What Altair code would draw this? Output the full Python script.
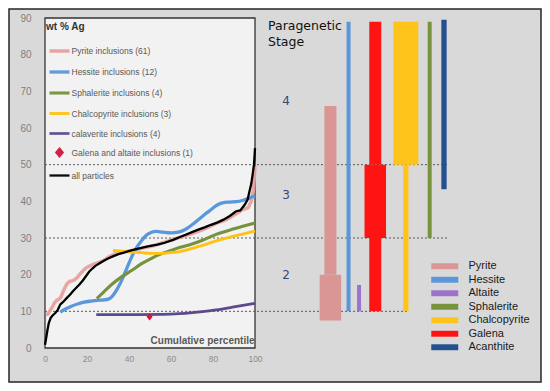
import altair as alt
import pandas as pd

# ---------------- Left panel: wt % Ag vs cumulative percentile ----------------
SERIES = [
    "Pyrite inclusions (61)",
    "Hessite inclusions (12)",
    "Sphalerite inclusions (4)",
    "Chalcopyrite inclusions (3)",
    "calaverite inclusions (4)",
    "Galena and altaite inclusions (1)",
    "all particles",
]
SERIES_COLORS = ["#e8a09e", "#5b97dc", "#76923c", "#ffc20e", "#5d4a8c", "#d4163c", "#000000"]

PYR_X = [0.5, 1.5, 2.5, 3.5, 4.5, 5.5, 6.5, 7.5, 8.5, 9.5, 10.5, 11.8, 13, 14.1, 15.5, 16.4, 18, 19.4,
         21, 23.2, 25, 27, 29, 30.8, 33, 34.5, 37, 39.8, 43, 47, 51, 55, 58, 62, 66, 70, 73, 76, 79,
         82, 85, 88, 91, 94, 96.7, 98.2, 99.2, 99.7, 100]
PYR_Y = [9.1, 9.3, 10.3, 11.2, 12.3, 13.0, 13.3, 13.8, 15.2, 16.5, 17.5, 18.2, 18.3, 18.6, 19.3, 20.0,
         21.0, 21.8, 22.3, 22.9, 23.2, 23.6, 24.3, 25.0, 25.5, 25.9, 26.2, 26.4, 26.8, 27.3, 27.8,
         28.5, 29.1, 29.8, 30.5, 31.2, 31.8, 32.5, 33.3, 34.1, 34.7, 35.5, 36.6, 37.7, 38.2, 40.0,
         43.0, 47.0, 49.6]

HES_X = [7.3, 10, 12.6, 15.5, 18.6, 22, 25, 28, 30.5, 32.3, 34.5, 36.8, 39, 41.4, 43.6, 45.9, 48,
         50.5, 53, 56, 60, 63.5, 67, 70, 73, 76, 79, 82, 84.5, 88, 91, 94.4, 97, 100]
HES_Y = [9.8, 10.7, 11.4, 12.0, 12.5, 12.8, 13.0, 13.1, 13.4, 14.3, 16.2, 18.8, 21.8, 25.0, 27.4,
         29.2, 30.6, 31.5, 31.8, 31.6, 31.4, 31.6, 32.4, 33.6, 35.0, 36.4, 37.7, 39.0, 39.6, 39.8,
         39.9, 40.3, 40.8, 41.5]

SPH_X = [24.7, 28.5, 32.3, 37, 41.4, 46, 50.5, 55, 59.5, 64, 68.6, 75, 81.5, 90, 100]
SPH_Y = [13.5, 15.6, 17.6, 19.6, 21.2, 23.0, 24.4, 25.6, 26.5, 27.4, 28.1, 29.4, 31.0, 32.5, 34.1]

CCP_X = [32.3, 37, 41.4, 46, 50.5, 55, 59.5, 64, 68.6, 75, 81.5, 90, 100]
CCP_Y = [26.6, 26.4, 26.2, 26.0, 25.8, 25.8, 26.0, 26.3, 26.9, 28.0, 29.2, 30.5, 31.9]

CAL_X = [24.4, 35, 45, 55, 62, 68, 75, 81.5, 90, 100]
CAL_Y = [9.1, 9.1, 9.1, 9.15, 9.3, 9.5, 9.9, 10.4, 11.2, 12.2]

GAL_X = [49.8]
GAL_Y = [8.5]

ALL_X = [0, 0.5, 1.2, 1.8, 2.7, 3.5, 5, 6, 7.3, 8.5, 10.3, 12, 13.3, 15, 16.4, 18, 19.4, 21, 22.4,
         24, 26.2, 28, 30, 32.3, 35, 37.5, 39.8, 42.5, 45.9, 49, 53.5, 57, 61, 64, 67, 70, 73, 76,
         79, 82, 85, 88, 91, 93, 95, 96.5, 97.4, 98.2, 98.9, 99.5, 99.8, 100]
ALL_Y = [0.9, 2.5, 5.0, 6.8, 8.2, 8.8, 9.6, 10.3, 11.9, 12.5, 13.6, 14.6, 15.5, 16.5, 17.3, 18.4,
         19.5, 20.8, 21.6, 22.4, 23.2, 23.8, 24.4, 25.0, 25.6, 26.0, 26.4, 26.8, 27.3, 27.7, 28.2,
         28.7, 29.5, 30.2, 30.9, 31.6, 32.3, 32.9, 33.6, 34.2, 35.0, 36.0, 37.3, 37.5, 39.0, 40.5,
         42.8, 44.7, 47.4, 50.0, 52.5, 54.5]

# ---------------- Right panel: paragenetic stages ----------------
STAGE_BOUNDS = [10, 30, 50]
STAGE_LABELS = ["2", "3", "4"]
STAGE_LABEL_Y = [20, 41.7, 67.4]

MINERALS = ["Pyrite", "Hessite", "Altaite", "Sphalerite", "Chalcopyrite", "Galena", "Acanthite"]
MINERAL_COLORS = ["#d99694", "#5a96d8", "#9b72cc", "#77933c", "#ffc41c", "#ff1414", "#24508e"]

SEG_MINERAL = ["Pyrite", "Pyrite", "Hessite", "Altaite", "Galena", "Galena", "Galena",
               "Chalcopyrite", "Chalcopyrite", "Sphalerite", "Acanthite"]
SEG_FROM = [7.5, 20, 10, 10, 10, 30, 50, 10, 50, 30, 43.3]
SEG_TO = [20, 66, 89, 17.2, 30, 50, 89, 50, 89, 89, 89.5]
SEG_ABUNDANCE = ["major", "common", "trace", "trace", "common", "major", "common",
                 "minor", "abundant", "trace", "minor"]

# ---------------- layout / style ----------------
W, H = 220, 330
PX_PER_X = W / 100.0
COLUMN_OFFSET_PX = {"Pyrite": 79, "Hessite": 98, "Altaite": 109, "Galena": 126,
                    "Chalcopyrite": 158, "Sphalerite": 183, "Acanthite": 198}
RULE_END_PX = {10: 161, 30: 203, 50: 203}
ABUNDANCE_WIDTH = {"trace": 4, "minor": 5.3, "common": 12, "major": 21.5, "abundant": 25}
DIAMOND = "M0,-0.36L0.3,0L0,0.36L-0.3,0Z"
SERIES_SHAPES = ["stroke", "stroke", "stroke", "stroke", "stroke", DIAMOND, "stroke"]
SERIES_WIDTHS = [3.5, 2.3, 2.3, 2.3, 2.3, 0, 1.4]

FONT = "Liberation Sans"

XS = alt.Scale(domain=[0, 100], nice=False, zero=False)
YS = alt.Scale(domain=[0, 90], nice=False, zero=False)
X_AXIS = alt.Axis(values=list(range(0, 101, 20)), grid=False, domain=False, ticks=False,
                  labelFontSize=8.5, labelColor="#8c8c8c", labelPadding=6, labelFont=FONT,
                  title="Cumulative percentile", titleFontSize=10, titleFontWeight="bold",
                  titleColor="#595959", titleFont=FONT, titleX=214, titleY=-5,
                  titleAlign="right", titleBaseline="alphabetic", zindex=2)
Y_AXIS = alt.Axis(values=list(range(0, 91, 10)), grid=False, domain=False, ticks=False,
                  labelFontSize=10, labelColor="#7f7f7f", labelPadding=9, labelFont=FONT,
                  title=None, zindex=2)


def xq(field):
    return alt.X(field, type="quantitative", scale=XS, axis=X_AXIS)


def yq(field):
    return alt.Y(field, type="quantitative", scale=YS, axis=Y_AXIS)


LEFT_LEGEND = alt.Legend(
    orient="none", legendX=6, legendY=4, title="wt % Ag", titleFontSize=10,
    titleFontWeight="bold", titleColor="#333333", titleFont=FONT, titlePadding=7,
    symbolOffset=1.5, labelOffset=0, labelFontSize=8.5, labelFont=FONT, labelColor="#595959",
    rowPadding=2.0, padding=0, symbolSize=400,
)
ENC_SERIES = dict(
    color=alt.Color("series:N", scale=alt.Scale(domain=SERIES, range=SERIES_COLORS), legend=LEFT_LEGEND),
    strokeWidth=alt.StrokeWidth("series:N", scale=alt.Scale(domain=SERIES, range=SERIES_WIDTHS), legend=LEFT_LEGEND),
)
ENC_POINT = dict(
    shape=alt.Shape("series:N", scale=alt.Scale(domain=SERIES, range=SERIES_SHAPES), legend=LEFT_LEGEND),
)

RIGHT_LEGEND = alt.Legend(
    orient="none", legendX=397.75, legendY=241.25, title=None,
    symbolType="M-2,-0.44H2V0.44H-2Z", symbolSize=182.25, symbolStrokeWidth=0,
    labelOffset=16.75, rowPadding=1.5, padding=0, labelFontSize=11, labelFont=FONT,
    labelColor="#1a1a1a", symbolOpacity=1,
)
FILL = alt.Fill("mineral:N", scale=alt.Scale(domain=MINERALS, range=MINERAL_COLORS), legend=RIGHT_LEGEND)


def series_df(name, xs, ys):
    return pd.DataFrame({"x": xs, "y": ys, "series": name})


one = pd.DataFrame({"k": [0]})

frame = alt.Chart(one).mark_rect(fill="#d9d9d9", stroke="#262626", strokeWidth=1.5).encode(
    x=alt.value(-31), x2=alt.value(501), y=alt.value(-9), y2=alt.value(364))

panel = alt.Chart(pd.DataFrame({"x0": [0], "x1": [100], "y0": [0], "y1": [90]})).mark_rect(
    fill="#f2f2f2", stroke="#333333", strokeWidth=1.3).encode(
    x=xq("x0"), x2="x1", y=yq("y0"), y2="y1")

rules_df = pd.DataFrame({"y": STAGE_BOUNDS, "x0": [0] * len(STAGE_BOUNDS),
                         "x1": [100 + RULE_END_PX[b] / PX_PER_X for b in STAGE_BOUNDS]})
rules = alt.Chart(rules_df).mark_rule(color="#5a5a5a", strokeDash=[2, 2], strokeWidth=1).encode(
    x=xq("x0"), x2="x1", y=yq("y"))

pyr = alt.Chart(series_df(SERIES[0], PYR_X, PYR_Y)).mark_line(opacity=0.95).encode(
    x=xq("x"), y=yq("y"), **ENC_SERIES)
smooth = []
for name, xs, ys in [(SERIES[1], HES_X, HES_Y), (SERIES[2], SPH_X, SPH_Y),
                     (SERIES[3], CCP_X, CCP_Y), (SERIES[4], CAL_X, CAL_Y)]:
    smooth.append(alt.Chart(series_df(name, xs, ys)).mark_line(interpolate="monotone").encode(
        x=xq("x"), y=yq("y"), **ENC_SERIES))
allp = alt.Chart(series_df(SERIES[6], ALL_X, ALL_Y)).mark_line().encode(
    x=xq("x"), y=yq("y"), **ENC_SERIES)
gal = alt.Chart(series_df(SERIES[5], GAL_X, GAL_Y)).mark_point(filled=True, opacity=1, size=400).encode(
    x=xq("x"), y=yq("y"), **ENC_SERIES, **ENC_POINT)

seg_df = pd.DataFrame({"mineral": SEG_MINERAL, "y0": SEG_FROM, "y1": SEG_TO, "abundance": SEG_ABUNDANCE})
seg_df["cx"] = [100 + COLUMN_OFFSET_PX[m] / PX_PER_X for m in SEG_MINERAL]
bars = []
for level, w in ABUNDANCE_WIDTH.items():
    bars.append(alt.Chart(seg_df).transform_filter(alt.datum.abundance == level).mark_bar(size=w).encode(
        x=xq("cx"), y=yq("y0"), y2="y1", fill=FILL))

stage_df = pd.DataFrame({"label": STAGE_LABELS, "y": STAGE_LABEL_Y})
stages = alt.Chart(stage_df).mark_text(font="DejaVu Sans", fontSize=12, color="#2f4a7a").encode(
    x=alt.value(246), y=yq("y"), text="label:N")

title_txt = alt.Chart(one).mark_text(
    text="Paragenetic\nStage", lineBreak="\n", lineHeight=16, align="left", baseline="top",
    font="DejaVu Sans", fontSize=12.5, color="#111111").encode(x=alt.value(228), y=alt.value(2))

chart = alt.layer(frame, panel, rules, pyr, *smooth, allp, gal, *bars, stages, title_txt).properties(
    width=W, height=H, padding=0, background="white"
).configure_view(stroke=None)

chart.save("out.html", embed_options={"renderer": "svg", "actions": False})
